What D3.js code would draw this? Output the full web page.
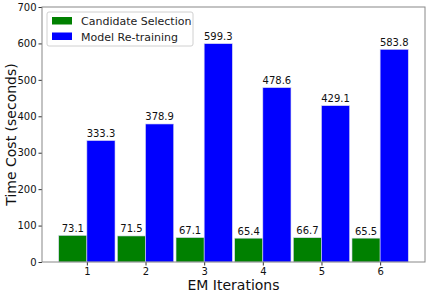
<!DOCTYPE html>
<html>
<head>
<meta charset="utf-8">
<script src="https://cdn.jsdelivr.net/npm/d3@7"></script>
<style>
  body { margin: 0; background: #fff; }
  text { font-family: "DejaVu Sans", sans-serif; }
</style>
</head>
<body>
<div id="container"></div>
<script>
/* DATA */
const iterations = [1, 2, 3, 4, 5, 6];
const candidateSelection = [73.1, 71.5, 67.1, 65.4, 66.7, 65.5];
const modelRetraining = [333.3, 378.9, 599.3, 478.6, 429.1, 583.8];
const yTicks = [0, 100, 200, 300, 400, 500, 600, 700];

/* CONSTANTS */
const W = 429, H = 295;
const margin = { top: 7, right: 4, bottom: 33, left: 42 };
const width = W - margin.left - margin.right;
const height = H - margin.top - margin.bottom;
const barW = 0.48;

const svg = d3.select('#container')
  .append('svg')
  .attr('width', W)
  .attr('height', H);

const chart = svg.append('g')
  .attr('transform', `translate(${margin.left}, ${margin.top})`);

const xScale = d3.scaleLinear()
  .domain([0.235, 6.765])
  .range([0, width]);

const yScale = d3.scaleLinear()
  .domain([0, 700])
  .range([height, 0]);

const series = [
  { name: 'Candidate Selection', values: candidateSelection, color: '#008000', offset: -barW },
  { name: 'Model Re-training', values: modelRetraining, color: '#0000ff', offset: 0 }
];

// bars + value labels
series.forEach(s => {
  const data = iterations.map((it, i) => ({ it, v: s.values[i] }));
  chart.selectAll(null)
    .data(data)
    .enter()
    .append('rect')
    .attr('x', d => xScale(d.it + s.offset))
    .attr('y', d => yScale(d.v))
    .attr('width', xScale(barW) - xScale(0))
    .attr('height', d => height - yScale(d.v))
    .attr('fill', s.color)
    .attr('stroke', '#d8d8f0')
    .attr('stroke-width', 0.6);

  chart.selectAll(null)
    .data(data)
    .enter()
    .append('text')
    .attr('x', d => xScale(d.it + s.offset + barW / 2))
    .attr('y', d => yScale(d.v) - 3.5)
    .attr('text-anchor', 'middle')
    .attr('font-size', 10)
    .attr('fill', '#111')
    .text(d => d.v.toFixed(1));
});

// axes
const xAxis = chart.append('g')
  .attr('transform', `translate(0,${height})`)
  .call(d3.axisBottom(xScale).tickValues(iterations).tickFormat(d3.format('d'))
    .tickSize(3.5).tickPadding(2));

const yAxis = chart.append('g')
  .call(d3.axisLeft(yScale).tickValues(yTicks).tickFormat(d3.format('d'))
    .tickSize(3.5).tickPadding(2));

[xAxis, yAxis].forEach(a => {
  a.select('.domain').remove();
  a.selectAll('line').attr('stroke', '#333');
  a.selectAll('text').attr('font-size', 10).attr('fill', '#111')
    .style('font-family', '"DejaVu Sans", sans-serif');
});

// frame
chart.append('rect')
  .attr('width', width)
  .attr('height', height)
  .attr('fill', 'none')
  .attr('stroke', '#888')
  .attr('stroke-width', 1);

// axis labels
svg.append('text')
  .attr('x', margin.left + width / 2)
  .attr('y', H - 5)
  .attr('text-anchor', 'middle')
  .attr('font-size', 14)
  .attr('fill', '#111')
  .text('EM Iterations');

svg.append('text')
  .attr('transform', 'rotate(-90)')
  .attr('x', -(margin.top + height / 2))
  .attr('y', 16)
  .attr('text-anchor', 'middle')
  .attr('font-size', 14)
  .attr('fill', '#111')
  .text('Time Cost (seconds)');

// Legend
const legend = chart.append('g')
  .attr('transform', 'translate(5, 5)');

legend.append('rect')
  .attr('width', 146)
  .attr('height', 34)
  .attr('rx', 2)
  .attr('fill', '#fff')
  .attr('fill-opacity', 0.8)
  .attr('stroke', '#d0d0d0');

series.forEach((s, i) => {
  legend.append('rect')
    .attr('x', 5)
    .attr('y', 5 + i * 15.5)
    .attr('width', 20)
    .attr('height', 7.5)
    .attr('fill', s.color);
  legend.append('text')
    .attr('x', 34)
    .attr('y', 13 + i * 15.5)
    .attr('font-size', 11)
    .attr('fill', '#222')
    .text(s.name);
});
</script>
</body>
</html>
